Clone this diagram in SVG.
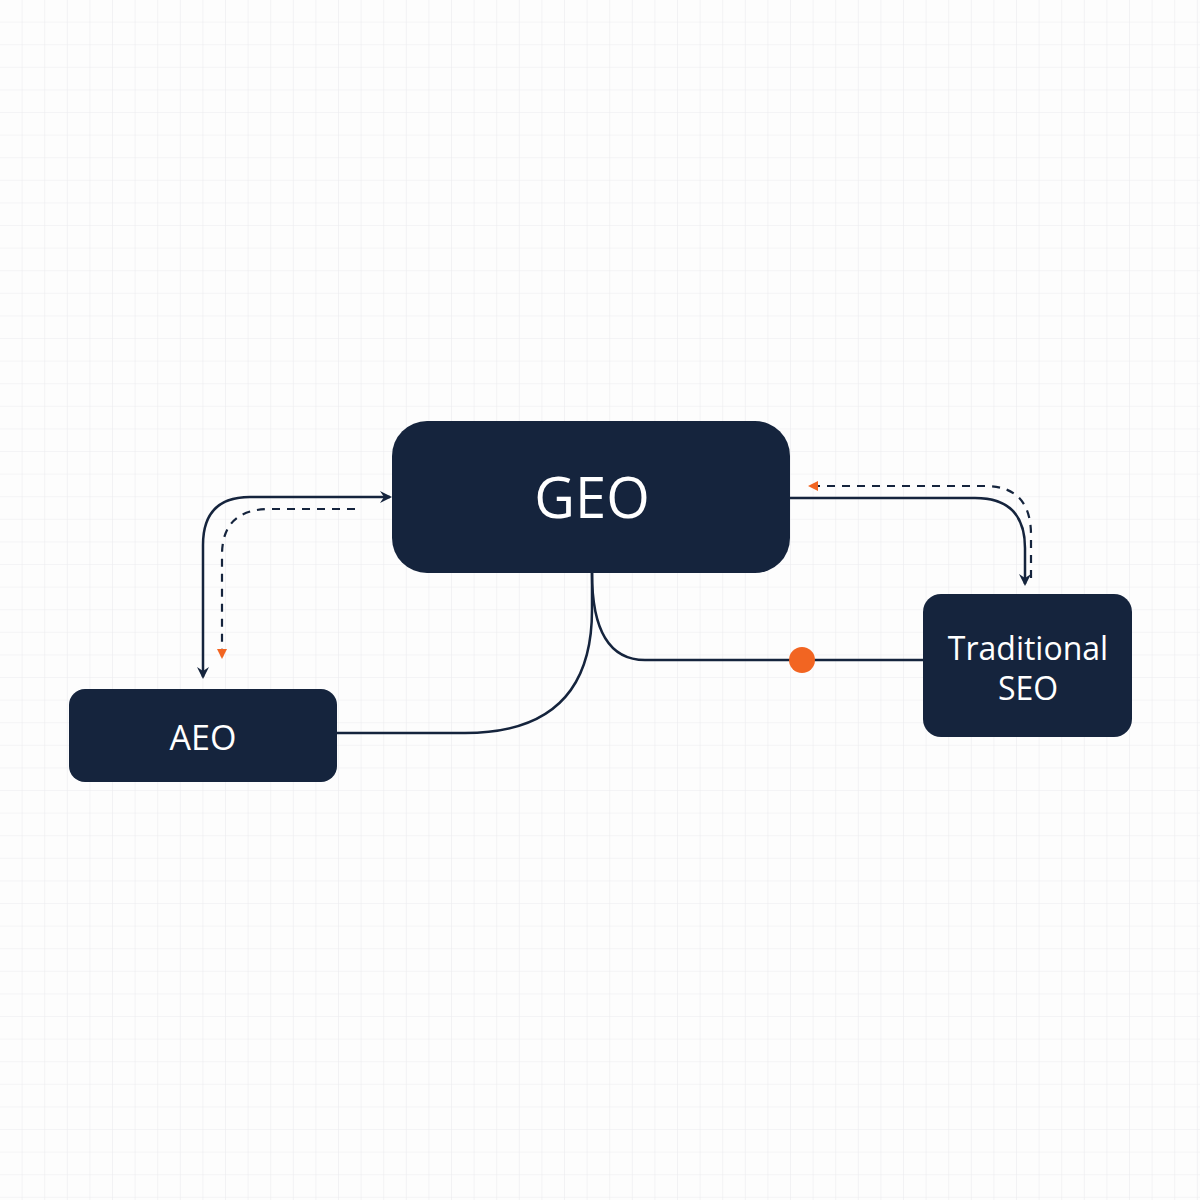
<svg xmlns="http://www.w3.org/2000/svg" width="1200" height="1200" viewBox="0 0 1200 1200">
<defs>
<pattern id="grid" width="22.6" height="22.6" patternUnits="userSpaceOnUse">
<path d="M22.6 0V22.6H0" fill="none" stroke="#ebebef" stroke-width="1.2"/>
</pattern>
<marker id="ah" viewBox="0 0 12 12" refX="10" refY="6" markerWidth="12" markerHeight="12" markerUnits="userSpaceOnUse" orient="auto-start-reverse">
<path d="M0,0 L12,6 L0,12 L4,6 Z" fill="#15243d"/>
</marker>
<marker id="ao" viewBox="0 0 10 10" refX="8" refY="5" markerWidth="10" markerHeight="10" markerUnits="userSpaceOnUse" orient="auto">
<path d="M0,0 L10,5 L0,10 Z" fill="#f26522"/>
</marker>
<style>
.node{fill:#15243d}
.t{fill:#fff;font-family:"Open Sans","Noto Sans",sans-serif;text-anchor:middle}
.c{fill:none;stroke:#15243d;stroke-width:2.5}
.d{fill:none;stroke:#15243d;stroke-width:2.2;stroke-dasharray:8 7}
</style>
</defs>
<rect width="1200" height="1200" fill="#fdfdfd"/>
<rect width="1200" height="1200" fill="url(#grid)"/>
<g id="connectors">
<path class="c" d="M390,497 H250 Q203,497 203,545 V677" marker-start="url(#ah)" marker-end="url(#ah)"/>
<path class="d" d="M355,509 H270 Q222,509 222,555 V657" marker-end="url(#ao)"/>
<path class="c" d="M790,498 H975 Q1025,498 1025,548 V584" marker-end="url(#ah)"/>
<path class="d" d="M1031,578 V535 Q1031,486 985,486 H810" marker-end="url(#ao)"/>
<path class="c" d="M592,573 V610 Q592,733 465,733 H337"/>
<path class="c" d="M592,573 Q592,660 645,660 H923"/>
<circle cx="802" cy="660" r="13" fill="#f26522"/>
</g>
<g id="geo">
<rect class="node" x="392" y="421" width="398" height="152" rx="35"/>
<text class="t" x="592" y="518" font-size="56">GEO</text>
</g>
<g id="aeo">
<rect class="node" x="69" y="689" width="268" height="93" rx="16"/>
<text class="t" x="203" y="750" font-size="34">AEO</text>
</g>
<g id="seo">
<rect class="node" x="923" y="594" width="209" height="143" rx="18"/>
<text class="t" x="1028" y="660" font-size="32">Traditional</text>
<text class="t" x="1028" y="700" font-size="32">SEO</text>
</g>
</svg>
